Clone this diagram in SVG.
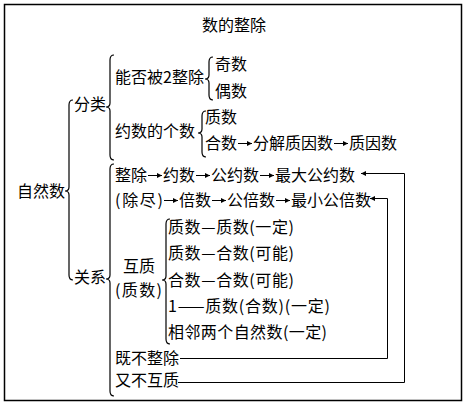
<svg xmlns="http://www.w3.org/2000/svg" width="467" height="409" viewBox="0 0 467 409">
<style>
text{font-family:"Noto Sans CJK SC","Noto Sans CJK TC",sans-serif;font-size:16px;fill:#000}
.ln{fill:none;stroke:#000;stroke-width:1}
.br{fill:none;stroke:#000;stroke-width:1.2}
.ar{fill:none;stroke:#000;stroke-width:1;marker-end:url(#ah)}
</style>
<defs>
<marker id="ah" markerUnits="userSpaceOnUse" markerWidth="6" markerHeight="6" refX="5" refY="3" orient="auto">
<path d="M0,0.5 L5,3 L0,5.5 z" fill="#000"/>
</marker>
</defs>
<rect x="4.5" y="4.5" width="457" height="396" fill="#fff" stroke="#000" stroke-width="1.5"/>
<g id="title"><text x="202" y="31">数的整除</text></g>
<g id="root"><text x="17" y="197">自然数</text></g>
<g id="fenlei"><text x="74" y="110">分类</text></g>
<g id="guanxi"><text x="74" y="283">关系</text></g>
<g id="nengfou"><text x="115" y="83">能否被2整除</text></g>
<g id="jishu"><text x="215" y="70">奇数</text></g>
<g id="oushu"><text x="215" y="97">偶数</text></g>
<g id="yueshugeshu"><text x="115" y="137">约数的个数</text></g>
<g id="zhishu"><text x="205" y="123">质数</text></g>
<g id="heshu"><text x="205" y="149">合数</text><text x="253" y="149">分解质因数</text><text x="349" y="149">质因数</text></g>
<g id="zhengchu"><text x="115" y="181">整除</text><text x="163" y="181">约数</text><text x="211" y="181">公约数</text><text x="275" y="181">最大公约数</text></g>
<g id="chujin"><text x="115" y="206" textLength="48" lengthAdjust="spacing">(除尽)</text><text x="179" y="206">倍数</text><text x="227" y="206">公倍数</text><text x="291" y="206">最小公倍数</text></g>
<g id="huzhi"><text x="123" y="272">互质</text><text x="115" y="296" textLength="47" lengthAdjust="spacing">(质数)</text></g>
<g id="hz1"><text x="168" y="233" textLength="126" lengthAdjust="spacing">质数—质数(一定)</text></g>
<g id="hz2"><text x="168" y="259" textLength="126" lengthAdjust="spacing">质数—合数(可能)</text></g>
<g id="hz3"><text x="168" y="286" textLength="126" lengthAdjust="spacing">合数—合数(可能)</text></g>
<g id="hz4"><text x="168" y="312" textLength="162" lengthAdjust="spacing">1——质数(合数)(一定)</text></g>
<g id="hz5"><text x="168" y="338" textLength="159" lengthAdjust="spacing">相邻两个自然数(一定)</text></g>
<g id="jibu"><text x="115" y="364">既不整除</text></g>
<g id="youbu"><text x="115" y="386">又不互质</text></g>
<g id="braces">
<path class="br" d="M73,100 Q69,100 69,105 L69,187 Q69,191 65,191 Q69,191 69,195 L69,275 Q69,280 73,280"/>
<path class="br" d="M114,55 Q110,55 110,60 L110,103 Q110,107 106,107 Q110,107 110,111 L110,155 Q110,160 114,160"/>
<path class="br" d="M213,57 Q209,57 209,62 L209,75 Q209,79 205,79 Q209,79 209,83 L209,95 Q209,100 213,100"/>
<path class="br" d="M206,111 Q202,111 202,116 L202,129 Q202,133 198,133 Q202,133 202,137 L202,152 Q202,157 206,157"/>
<path class="br" d="M114,164 Q110,164 110,169 L110,275 Q110,279 106,279 Q110,279 110,283 L110,391 Q110,396 114,396"/>
<path class="br" d="M170,219 Q166,219 166,224 L166,276 Q166,280 162,280 Q166,280 166,284 L166,339 Q166,344 170,344"/>
</g>
<g id="connectors">
<line class="ar" x1="238" y1="143.5" x2="252" y2="143.5"/>
<line class="ar" x1="334" y1="143.5" x2="348" y2="143.5"/>
<line class="ar" x1="148" y1="175.5" x2="162" y2="175.5"/>
<line class="ar" x1="196" y1="175.5" x2="210" y2="175.5"/>
<line class="ar" x1="260" y1="175.5" x2="274" y2="175.5"/>
<line class="ar" x1="164" y1="200.5" x2="178" y2="200.5"/>
<line class="ar" x1="212" y1="200.5" x2="226" y2="200.5"/>
<line class="ar" x1="276" y1="200.5" x2="290" y2="200.5"/>
<polyline class="ar" points="178,382.5 404.5,382.5 404.5,173.5 361,173.5"/>
<polyline class="ar" points="180,358.5 387.5,358.5 387.5,198.5 370,198.5"/>
</g>
</svg>
